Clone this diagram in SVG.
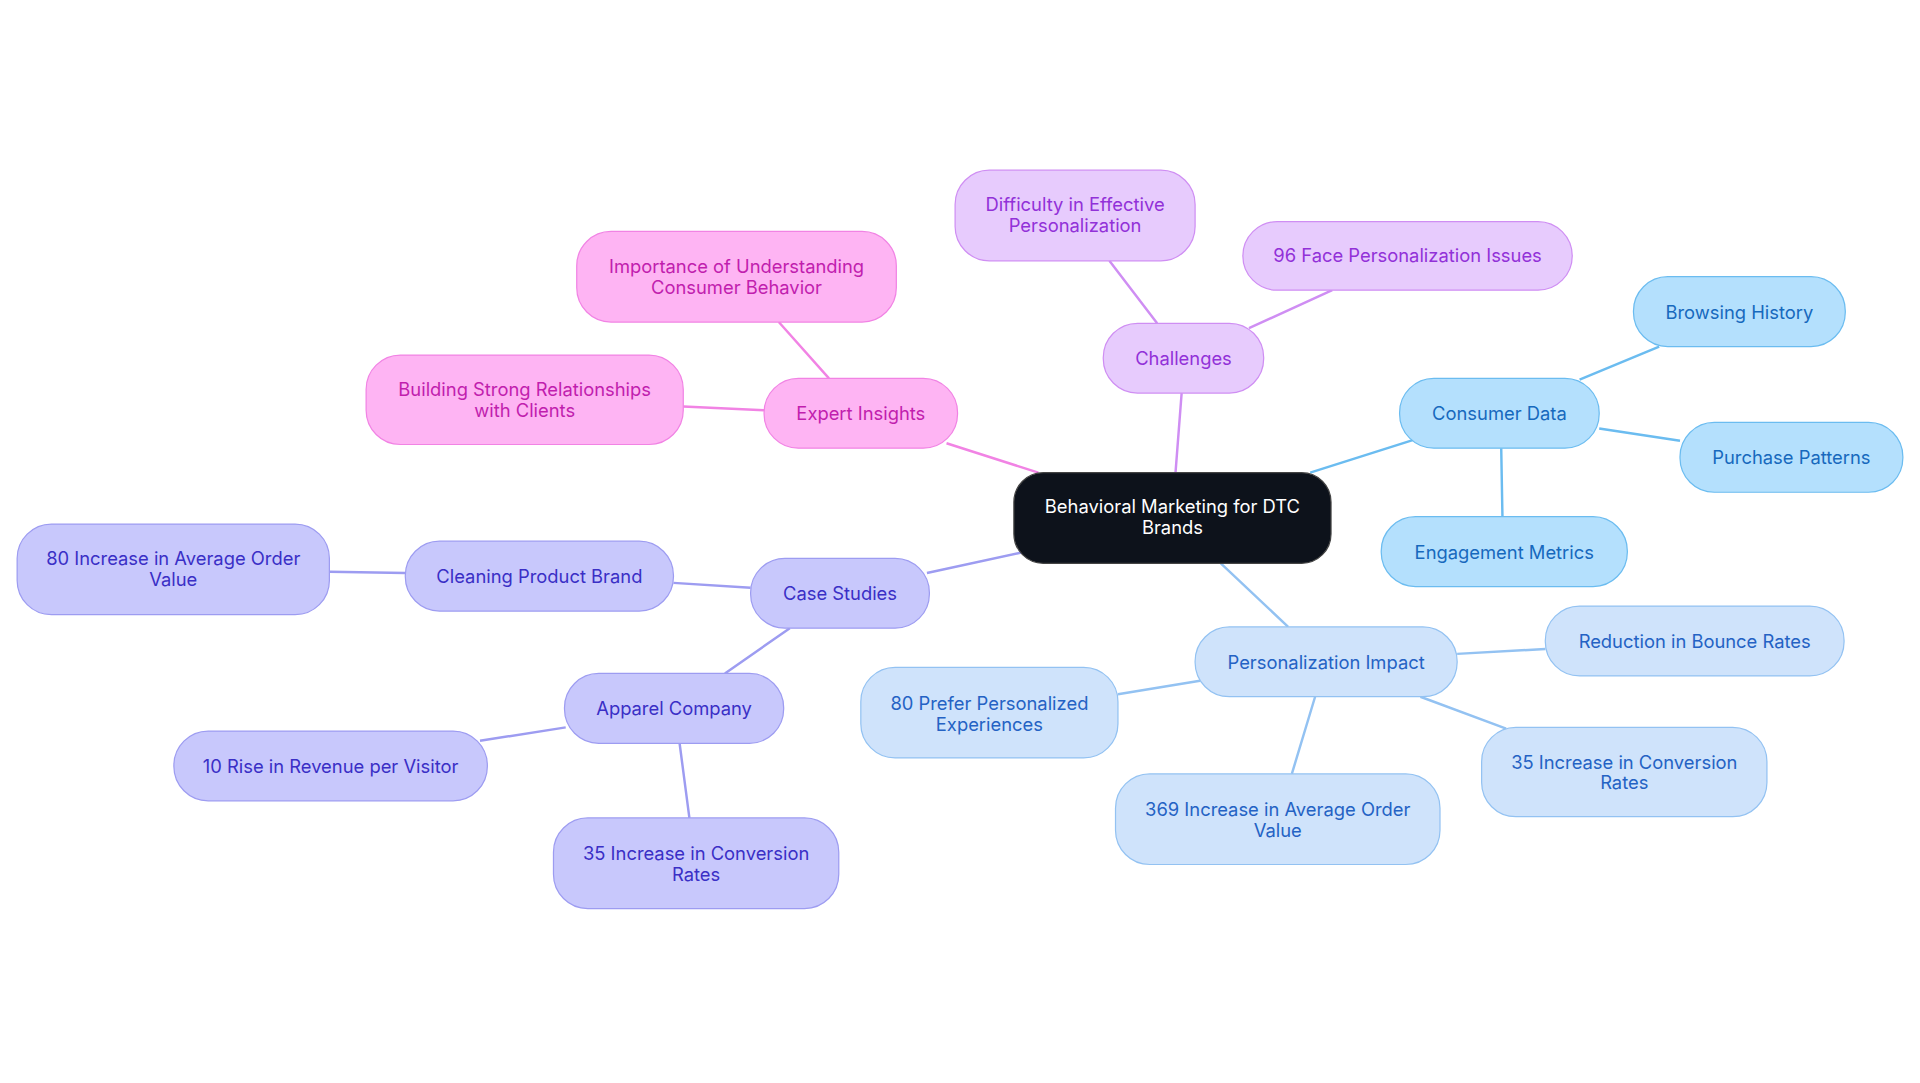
<svg xmlns="http://www.w3.org/2000/svg" width="1920" height="1083" viewBox="0 0 1920 1083">
<style>
text{font-family:Inter,"Liberation Sans",sans-serif;font-size:15px;text-anchor:middle;dominant-baseline:central}
rect{stroke-width:1}
.e{fill:none;stroke-width:2}
.ch rect{fill:#e7cbfd;stroke:#cf8ef3}.ch text{fill:#9231d8}
.cd rect{fill:#b4e0fd;stroke:#6bbcf0}.cd text{fill:#1769bd}
.pi rect{fill:#cfe3fb;stroke:#93c2f2}.pi text{fill:#2462c4}
.ex rect{fill:#feb4f3;stroke:#f183e4}.ex text{fill:#c11eae}
.cs rect{fill:#c8c8fc;stroke:#9d9cf1}.cs text{fill:#3a2fc6}
</style>
<rect width="1920" height="1083" fill="#fff"/>
<g transform="scale(1.22449)">
<g id="connectors">
<path class="e" stroke="#cf8ef3" d="M960,386L965,321M945,264L906,213M1020,268L1088,237"/>
<path class="e" stroke="#6bbcf0" d="M1070,386L1155,359M1290,310L1355,283M1306,350L1372,360M1226,366L1227,422"/>
<path class="e" stroke="#93c2f2" d="M997,460L1052,512M1190,534L1262,530M1160,569L1230,595M1074,569L1055,632M980,556L913,567"/>
<path class="e" stroke="#f183e4" d="M848,386L773,362M677,309L636,263M624,335L558,332"/>
<path class="e" stroke="#9d9cf1" d="M835,451L757,468M613,480L550,476M331,468L269,467M645,513L592,550M462,594L392,605M555,607L563,668"/>
</g>
<g id="root"><rect x="828" y="386" width="259" height="74" rx="24" fill="#0d121b" stroke="#444"/><text x="957.5" y="413" fill="#fff">Behavioral Marketing for DTC</text><text x="957.5" y="430" fill="#fff">Brands</text></g>
<g id="challenges" class="ch"><rect x="901" y="264" width="131" height="57" rx="28"/><text x="966.5" y="292.5">Challenges</text></g>
<g id="difficulty" class="ch"><rect x="780" y="139" width="196" height="74" rx="28"/><text x="878" y="167">Difficulty in Effective</text><text x="878" y="184">Personalization</text></g>
<g id="face96" class="ch"><rect x="1015" y="181" width="269" height="56" rx="28"/><text x="1149.5" y="208.5">96 Face Personalization Issues</text></g>
<g id="consumer" class="cd"><rect x="1143" y="309" width="163" height="57" rx="28"/><text x="1224.5" y="337.5">Consumer Data</text></g>
<g id="browsing" class="cd"><rect x="1334" y="226" width="173" height="57" rx="28"/><text x="1420.5" y="254.5">Browsing History</text></g>
<g id="purchase" class="cd"><rect x="1372" y="345" width="182" height="57" rx="28"/><text x="1463" y="373.5">Purchase Patterns</text></g>
<g id="engagement" class="cd"><rect x="1128" y="422" width="201" height="57" rx="28"/><text x="1228.5" y="450.5">Engagement Metrics</text></g>
<g id="pimpact" class="pi"><rect x="976" y="512" width="214" height="57" rx="28"/><text x="1083" y="540.5">Personalization Impact</text></g>
<g id="bounce" class="pi"><rect x="1262" y="495" width="244" height="57" rx="28"/><text x="1384" y="523.5">Reduction in Bounce Rates</text></g>
<g id="conv35r" class="pi"><rect x="1210" y="594" width="233" height="73" rx="28"/><text x="1326.5" y="622">35 Increase in Conversion</text><text x="1326.5" y="639">Rates</text></g>
<g id="aov369" class="pi"><rect x="911" y="632" width="265" height="74" rx="28"/><text x="1043.5" y="661">369 Increase in Average Order</text><text x="1043.5" y="678">Value</text></g>
<g id="prefer80" class="pi"><rect x="703" y="545" width="210" height="74" rx="28"/><text x="808" y="574">80 Prefer Personalized</text><text x="808" y="591">Experiences</text></g>
<g id="expert" class="ex"><rect x="624" y="309" width="158" height="57" rx="28"/><text x="703" y="337.5">Expert Insights</text></g>
<g id="importance" class="ex"><rect x="471" y="189" width="261" height="74" rx="28"/><text x="601.5" y="217">Importance of Understanding</text><text x="601.5" y="234">Consumer Behavior</text></g>
<g id="building" class="ex"><rect x="299" y="290" width="259" height="73" rx="28"/><text x="428.5" y="318">Building Strong Relationships</text><text x="428.5" y="335">with Clients</text></g>
<g id="cases" class="cs"><rect x="613" y="456" width="146" height="57" rx="28"/><text x="686" y="484.5">Case Studies</text></g>
<g id="cleaning" class="cs"><rect x="331" y="442" width="219" height="57" rx="28"/><text x="440.5" y="470.5">Cleaning Product Brand</text></g>
<g id="aov80" class="cs"><rect x="14" y="428" width="255" height="74" rx="28"/><text x="141.5" y="456">80 Increase in Average Order</text><text x="141.5" y="473">Value</text></g>
<g id="apparel" class="cs"><rect x="461" y="550" width="179" height="57" rx="28"/><text x="550.5" y="578.5">Apparel Company</text></g>
<g id="rise10" class="cs"><rect x="142" y="597" width="256" height="57" rx="28"/><text x="270" y="625.5">10 Rise in Revenue per Visitor</text></g>
<g id="conv35l" class="cs"><rect x="452" y="668" width="233" height="74" rx="28"/><text x="568.5" y="697">35 Increase in Conversion</text><text x="568.5" y="714">Rates</text></g>
</g>
</svg>
